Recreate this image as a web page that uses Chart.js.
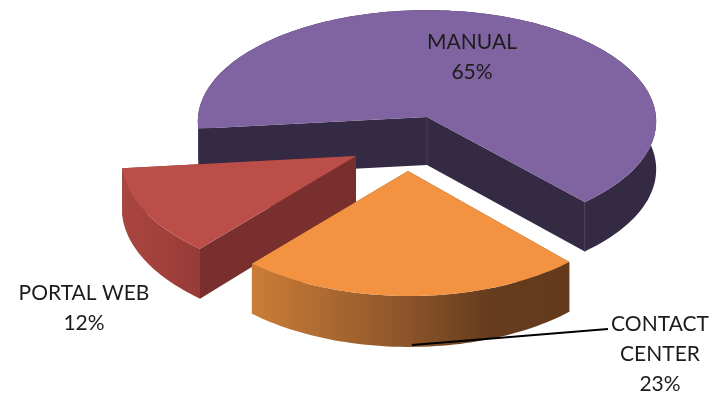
<!DOCTYPE html>
<html>
<head>
<meta charset="utf-8">
<style>
  html, body { margin: 0; padding: 0; background: #fff; }
  canvas { display: block; }
</style>
<script src="https://cdn.jsdelivr.net/npm/chart.js@4/dist/chart.umd.js"></script>
</head>
<body>
<canvas id="pie" width="711" height="395"></canvas>
<script>
// Chart values
const categories = ['MANUAL', 'CONTACT CENTER', 'PORTAL WEB'];
const shares = [65, 23, 12];

// Tilted-disc view of each slice: where its tip sits and how the ground plane is foreshortened
const sliceViews = [
  { x: 427, y: 117, rx: 229, ry: 111, persp: 0.039, skew: 0, depth: 48 },
  { x: 408, y: 171, rx: 226, ry: 115.3, persp: 0.0775, skew: 1, depth: 47 },
  { x: 356, y: 156, rx: 234, ry: 115.3, persp: 0.0775, skew: 8, depth: 47 }
];
const sliceLook = [
  { top: '#8063a1', cut: '#342a44', rim: [[0, '#342a44'], [1, '#342a44']], seam: '#463b5f' },
  { top: '#f39341', cut: '#7a4a22', rim: [[0, '#cb7d37'], [0.5, '#8a5329'], [0.75, '#653c1d'], [1, '#633a1b']] },
  { top: '#bc4e4a', cut: '#782f2e', rim: [[0, '#aa4540'], [1, '#983b38']] }
];
const paintOrder = [0, 2, 1];
const labelSpots = [
  { x: 472, y: 49 },
  { x: 660, y: 331 },
  { x: 84, y: 300 }
];
const leader = { from: [412, 345], to: [608, 329] };
const labelFont = '21px Lato, "Open Sans", sans-serif';
const labelLineGap = 30;
const labelWrapWidth = 140;

// Project a point of the slice's disc (unit radius, canvas angle) to the page
function project(view, angle, r, drop) {
  const u = Math.cos(angle) * r;
  const v = Math.sin(angle) * r;
  const s = 1 / (1 - view.persp * v);
  return [
    view.x + view.rx * u * s + view.skew * v * s,
    view.y + view.ry * v * s + (drop ? view.depth * s : 0)
  ];
}

function rimPoints(view, a0, a1, drop) {
  const n = Math.max(8, Math.ceil((a1 - a0) * 40));
  const pts = [];
  for (let i = 0; i <= n; i++) {
    pts.push(project(view, a0 + (a1 - a0) * i / n, 1, drop));
  }
  return pts;
}

function fillPolygon(ctx, pts, fill) {
  ctx.beginPath();
  pts.forEach((p, i) => (i ? ctx.lineTo(p[0], p[1]) : ctx.moveTo(p[0], p[1])));
  ctx.closePath();
  ctx.fillStyle = fill;
  ctx.fill();
}

function drawSlice(ctx, arc, index) {
  const view = sliceViews[index];
  const look = sliceLook[index];
  const a0 = arc.startAngle;
  const a1 = arc.endAngle;
  const upper = rimPoints(view, a0, a1, false);
  const lower = rimPoints(view, a0, a1, true);
  const tip = project(view, 0, 0, false);
  const tipLow = project(view, 0, 0, true);

  // Side walls along both cut edges
  fillPolygon(ctx, [tip, upper[0], lower[0], tipLow], look.cut);
  fillPolygon(ctx, [tip, upper[upper.length - 1], lower[lower.length - 1], tipLow], look.cut);

  // Outer wall, shaded from left to right
  const xs = upper.map(p => p[0]);
  const grad = ctx.createLinearGradient(Math.min(...xs), 0, Math.max(...xs), 0);
  look.rim.forEach(stop => grad.addColorStop(stop[0], stop[1]));
  fillPolygon(ctx, upper.concat(lower.slice().reverse()), grad);

  // Pale seams on the vertical edges
  if (look.seam) {
    ctx.strokeStyle = look.seam;
    ctx.lineWidth = 1;
    [[tip, tipLow], [upper[upper.length - 1], lower[lower.length - 1]]].forEach(seg => {
      ctx.beginPath();
      ctx.moveTo(seg[0][0], seg[0][1]);
      ctx.lineTo(seg[1][0], seg[1][1]);
      ctx.stroke();
    });
  }

  // Top face
  fillPolygon(ctx, [tip].concat(upper), look.top);
}

function wrapLabel(ctx, text) {
  if (ctx.measureText(text).width <= labelWrapWidth) return [text];
  return text.split(' ');
}

const tiltedPie = {
  id: 'tiltedPie',
  beforeDatasetsDraw(chart) {
    const ctx = chart.ctx;
    const arcs = chart.getDatasetMeta(0).data;
    ctx.save();
    paintOrder.forEach(i => drawSlice(ctx, arcs[i], i));
    ctx.restore();
    return false;
  },
  afterDraw(chart) {
    const ctx = chart.ctx;
    ctx.save();
    ctx.strokeStyle = '#000';
    ctx.lineWidth = 1.8;
    ctx.beginPath();
    ctx.moveTo(leader.from[0], leader.from[1]);
    ctx.lineTo(leader.to[0], leader.to[1]);
    ctx.stroke();

    ctx.font = labelFont;
    ctx.fillStyle = '#1c1c1c';
    ctx.textAlign = 'center';
    ctx.textBaseline = 'alphabetic';
    categories.forEach((name, i) => {
      const lines = wrapLabel(ctx, name).concat(shares[i] + '%');
      lines.forEach((line, k) => {
        ctx.fillText(line, labelSpots[i].x, labelSpots[i].y + k * labelLineGap);
      });
    });
    ctx.restore();
  }
};

new Chart(document.getElementById('pie'), {
  type: 'pie',
  data: {
    labels: categories,
    datasets: [{ data: shares, borderWidth: 0 }]
  },
  options: {
    responsive: false,
    animation: false,
    rotation: 264,
    plugins: { legend: { display: false }, tooltip: { enabled: false } }
  },
  plugins: [tiltedPie]
});
</script>
</body>
</html>
